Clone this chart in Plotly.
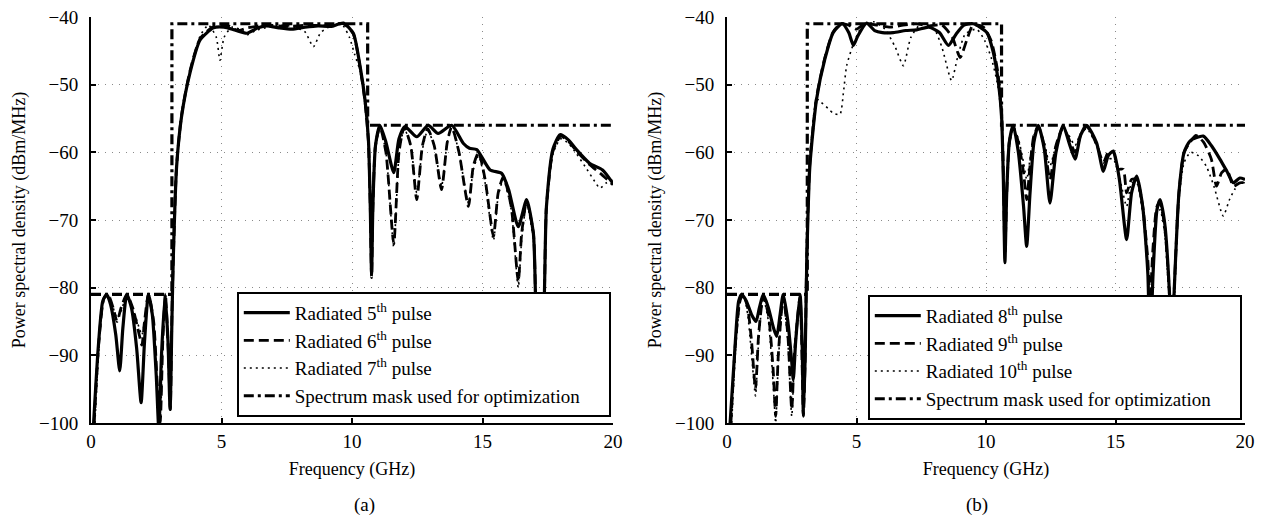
import plotly.graph_objects as go

# ---------------- panel (a): radiated 5th / 6th / 7th pulses ----------------
f_p5 = [0.1, 0.28, 0.45, 0.6, 0.75, 0.95, 1.1, 1.22, 1.37, 1.55, 1.75, 1.92, 2.05, 2.2, 2.35, 2.5, 2.6,
        2.7, 2.84, 2.95, 3.03, 3.1, 3.15, 3.28, 3.47, 3.79, 4.18, 4.69, 5.1, 5.5, 5.97, 6.4, 6.73, 7.2,
        7.7, 8.2, 8.7, 9.2, 9.67, 10.05, 10.31, 10.5, 10.63, 10.7, 10.75, 10.8, 10.9, 11.07, 11.3, 11.6,
        11.8, 12.03, 12.48, 12.92, 13.3, 13.82, 14.27, 14.5, 14.78, 15.29, 15.73, 16.0, 16.37, 16.69,
        16.95, 17.15, 17.25, 17.45, 17.7, 17.97, 18.3, 18.6, 19.1, 19.6, 20.0]
p5 = [-100, -88.7, -82, -81, -82.5, -87, -92.3, -86, -81, -83, -89, -97, -88, -81, -84, -93, -101,
      -90, -81, -88, -98, -85, -76, -62.1, -54.7, -48.3, -43.4, -41.6, -41.5, -41.9, -42.4, -41.6, -41.3, -41.6,
      -41.8, -41.5, -41.3, -41.4, -40.9, -42.4, -47.3, -52.3, -58.2, -68, -78, -68, -59, -56, -58.5, -63,
      -58, -56.2, -57.7, -56, -57.2, -56, -58.7, -59.4, -59.6, -62.6, -63.1, -65.5, -71.0, -67.0,
      -72, -90, -90, -68, -59.5, -57.4, -58.2, -59.6, -61.6, -62.6, -64.6]

f_p6 = [0.12, 0.3, 0.5, 0.65, 0.85, 1.0, 1.15, 1.37, 1.6, 1.85, 1.95, 2.05, 2.2, 2.4, 2.55, 2.65, 2.75,
        2.85, 2.97, 3.04, 3.1, 3.15, 3.28, 3.47, 3.79, 4.18, 4.69, 5.2, 5.6, 6.0, 6.7, 7.5, 8.3, 9.0, 9.67,
        10.05, 10.31, 10.5, 10.63, 10.7, 10.75, 10.8, 10.9, 11.07, 11.3, 11.6, 11.8, 12.0, 12.25, 12.48,
        12.7, 12.9, 13.15, 13.43, 13.65, 13.82, 14.1, 14.46, 14.65, 14.85, 15.1, 15.42, 15.6, 15.8, 16.1,
        16.37, 16.5, 16.69, 16.95, 17.15, 17.25, 17.45, 17.7, 18.0, 18.3, 18.6, 19.1, 19.6, 20.0]
p6 = [-100, -88, -81.5, -81, -83, -85, -83, -81, -83, -87, -88.5, -85, -81, -85, -95, -100, -88,
      -81, -90, -98, -84, -76, -62, -54.5, -48, -43.2, -41.4, -41.2, -42, -41.6, -41.2, -41.4, -41.2, -41.3, -41,
      -42.5, -47.5, -52.5, -58.5, -68, -78.5, -68, -59, -56.2, -60, -73.5, -60, -56.3, -59, -67.0,
      -59, -56.5, -59, -65.5, -58.5, -56.2, -60, -68.0, -62, -60, -64, -72.4, -66, -63.6, -68,
      -79.1, -72, -67.2, -72, -90, -90, -68, -59.8, -57.6, -58.4, -59.8, -61.8, -63.4, -64.8]

f_p7 = [0.15, 0.32, 0.52, 0.68, 0.85, 1.0, 1.15, 1.37, 1.6, 1.85, 1.95, 2.05, 2.2, 2.4, 2.55, 2.65, 2.75,
        2.85, 2.97, 3.04, 3.1, 3.15, 3.28, 3.47, 3.79, 4.18, 4.5, 4.8, 4.94, 5.1, 5.4, 5.8, 6.0, 6.3, 6.8,
        7.3, 7.8, 8.2, 8.52, 8.8, 9.2, 9.6, 9.9, 10.1, 10.31, 10.5, 10.63, 10.7, 10.75, 10.8, 10.9, 11.07,
        11.3, 11.6, 11.8, 12.0, 12.25, 12.48, 12.7, 12.9, 13.15, 13.43, 13.65, 13.82, 14.1, 14.46, 14.65,
        14.85, 15.1, 15.42, 15.6, 15.8, 16.1, 16.37, 16.5, 16.69, 16.95, 17.15, 17.25, 17.45, 17.7, 18.0,
        18.3, 18.6, 19.0, 19.3, 19.5, 19.75, 20.0]
p7 = [-100, -88, -81.5, -81.2, -83, -84.5, -83.5, -81.2, -83, -86, -87, -85, -81.2, -86, -96, -100, -88,
      -81.2, -89, -97, -84, -76, -62, -54.5, -48, -42.8, -41.2, -43, -46.4, -43, -41.5, -42, -42.6, -42, -41.5,
      -41.2, -41.5, -42.2, -44.4, -42.3, -41.3, -41, -43, -45.5, -48, -53, -59, -68, -77, -68, -59.5, -56.3,
      -60, -74, -60.5, -56.5, -59, -66, -59.5, -56.8, -59, -65, -58.5, -56.4, -60, -67.5, -62.5,
      -60.5, -64.5, -73, -66.5, -64, -68.5, -80, -73, -67.5, -73, -90, -90, -68.5, -60.2, -58,
      -58.7, -60.2, -62.5, -64.3, -65.3, -64.5, -64]

# ---------------- panel (b): radiated 8th / 9th / 10th pulses ----------------
f_p8 = [0.12, 0.31, 0.45, 0.57, 0.75, 0.95, 1.12, 1.25, 1.4, 1.6, 1.8, 1.92, 2.05, 2.17, 2.35, 2.5, 2.56,
        2.65, 2.82, 2.9, 2.95, 3.02, 3.08, 3.2, 3.46, 3.78, 4.1, 4.45, 4.7, 4.88, 5.05, 5.39, 5.7, 6.0, 6.42,
        6.9, 7.32, 7.8, 8.2, 8.55, 8.85, 9.15, 9.51, 10.03, 10.28, 10.48, 10.6, 10.67, 10.73, 10.8, 10.9,
        11.05, 11.25, 11.45, 11.57, 11.7, 11.85, 12.02, 12.25, 12.47, 12.7, 12.98, 13.2, 13.44, 13.65,
        13.89, 14.27, 14.53, 14.72, 14.92, 15.15, 15.43, 15.62, 15.82, 16.05, 16.25, 16.33, 16.45, 16.6,
        16.72, 16.9, 17.1, 17.17, 17.25, 17.45, 17.65, 17.88, 18.39, 18.7, 19.03, 19.3, 19.55, 19.8, 20.0]
p8 = [-100, -88.7, -82, -81, -82, -84, -85, -83, -81, -83, -86, -87.2, -84, -81, -85, -91, -93.6,
      -88, -81, -88, -98.8, -90, -76, -62, -52.1, -46.2, -42.3, -41, -42.3, -44.2, -42.8, -40.9, -42, -42.3, -42.3,
      -42, -41.9, -41.5, -42.3, -44.2, -42.5, -41.2, -41, -42.3, -45.2, -49.7, -54.6, -64, -76.3, -66, -58.5,
      -56, -60, -68, -73.9, -66, -58.5, -56, -59.5, -67.5, -60, -56, -58.5, -61, -57.5,
      -56, -58.6, -62.8, -60.5, -59.8, -64, -72.9, -66, -63.5, -68, -78, -90, -78, -68.5,
      -67, -70.5, -82, -90, -82, -66, -60, -58.3, -57.6, -59, -61, -62.8, -64.5, -63.8, -64]

f_p9 = [0.15, 0.33, 0.5, 0.62, 0.8, 0.95, 1.1, 1.22, 1.4, 1.6, 1.78, 1.88, 1.98, 2.17, 2.35, 2.5, 2.6,
        2.82, 2.95, 3.02, 3.08, 3.2, 3.46, 3.78, 4.1, 4.4, 4.7, 5.0, 5.3, 5.8, 6.3, 6.8, 7.3, 7.8, 8.3, 8.7,
        9.0, 9.25, 9.5, 9.9, 10.2, 10.45, 10.6, 10.67, 10.73, 10.8, 10.9, 11.05, 11.25, 11.45, 11.57, 11.7,
        11.85, 12.02, 12.25, 12.47, 12.7, 12.98, 13.2, 13.44, 13.65, 13.89, 14.27, 14.53, 14.72, 14.92,
        15.1, 15.3, 15.43, 15.62, 15.82, 16.05, 16.25, 16.33, 16.45, 16.6, 16.72, 16.9, 17.1, 17.17, 17.25,
        17.45, 17.65, 17.88, 18.1, 18.4, 18.7, 18.9, 19.1, 19.3, 19.55, 19.8, 20.0]
p9 = [-100, -88, -82, -81, -83, -88, -95, -87, -81.3, -84, -92, -99, -90, -81.3, -87, -98, -90,
      -81.3, -99, -90, -75, -61.5, -51.8, -46, -42.2, -41, -41.2, -41.8, -41, -41.2, -41.5, -41.2, -41, -41.3, -41.2, -43,
      -46, -43.5, -41.2, -41.5, -43.5, -48, -54, -63, -75, -66, -58.5, -56.2, -58.5, -63, -67, -62,
      -57.5, -56.2, -59, -64, -59, -56.3, -58, -60, -57.5, -56.2, -58.8, -61.5, -60, -60,
      -62.5, -62.5, -66, -64, -64, -68, -76, -82, -74, -68, -67.5, -71, -82, -90, -82,
      -66, -60, -58.5, -57.5, -58.5, -61, -65, -63, -62.5, -65, -64.5, -64.5]

f_p10 = [0.18, 0.35, 0.52, 0.65, 0.8, 0.95, 1.1, 1.22, 1.4, 1.6, 1.78, 1.88, 1.98, 2.17, 2.35, 2.5, 2.6,
         2.82, 2.95, 3.02, 3.08, 3.2, 3.46, 3.6, 3.9, 4.1, 4.36, 4.5, 4.62, 4.88, 5.2, 5.65, 6.1, 6.5, 6.81,
         7.1, 7.5, 8.0, 8.3, 8.67, 8.9, 9.2, 9.64, 9.95, 10.2, 10.45, 10.6, 10.67, 10.73, 10.8, 10.9, 11.05,
         11.25, 11.45, 11.57, 11.7, 11.85, 12.02, 12.25, 12.47, 12.7, 12.98, 13.2, 13.44, 13.65, 13.89,
         14.27, 14.53, 14.72, 14.92, 15.2, 15.43, 15.62, 15.82, 16.05, 16.25, 16.33, 16.45, 16.6, 16.72,
         16.9, 17.1, 17.17, 17.25, 17.45, 17.65, 17.9, 18.2, 18.5, 18.8, 19.16, 19.4, 19.6, 19.8, 20.0]
p10 = [-100, -88, -82, -81.2, -84, -90, -96, -88, -81.5, -85, -94, -100, -91, -81.5, -88, -99, -91,
       -81.5, -99, -90, -74, -61, -52.1, -52.5, -53.5, -54.2, -54.4, -51, -47.2, -44, -41.5, -40.7, -41.8, -44.5, -47.2,
       -43, -41, -41.8, -44.5, -49.4, -46, -42.5, -41.8, -43.5, -46, -50, -55, -63, -74, -66, -59, -56.5,
       -58, -61.5, -64, -61, -57.5, -56.5, -58.5, -62, -59, -56.5, -57.5, -59, -57.2, -56.5,
       -59, -62, -61, -61, -64.5, -68, -64.5, -64.5, -69, -78, -86, -76, -69, -68.5,
       -72, -84, -90, -84, -67, -61.5, -60, -60.5, -62, -65, -69.4, -67, -65.5, -64.5, -64.5]

# spectrum mask used for optimization (same in both panels)
f_mask = [0, 3.1, 3.1, 10.6, 10.6, 20]
mask = [-81, -81, -41, -41, -56, -56]

# trailing non-breaking spaces give the legend box some right-hand padding
PAD = "\u00a0" * 5
names_a = ["Radiated 5<sup>th</sup> pulse", "Radiated 6<sup>th</sup> pulse",
           "Radiated 7<sup>th</sup> pulse", "Spectrum mask used for optimization" + PAD]
names_b = ["Radiated 8<sup>th</sup> pulse", "Radiated 9<sup>th</sup> pulse",
           "Radiated 10<sup>th</sup> pulse", "Spectrum mask used for optimization" + PAD]

x_ticks = [0, 5, 10, 15, 20]
y_ticks = [-100, -90, -80, -70, -60, -50, -40]

FONT = "Liberation Serif, Times New Roman, serif"
line_styles = [
    dict(color="black", width=3.2, dash="solid"),
    dict(color="black", width=2.8, dash="10px,5px"),
    dict(color="black", width=1.6, dash="2px,4px"),
    dict(color="black", width=3.2, dash="10px,4px,3px,4px"),
]

fig = go.Figure()

panels = [
    ("x", "y", "legend", [(f_p5, p5), (f_p6, p6), (f_p7, p7), (f_mask, mask)], names_a),
    ("x2", "y2", "legend2", [(f_p8, p8), (f_p9, p9), (f_p10, p10), (f_mask, mask)], names_b),
]
for xa, ya, lg, series, names in panels:
    for (fx, fy), name, style in zip(series, names, line_styles):
        fig.add_trace(go.Scatter(
            x=fx, y=fy, mode="lines", name=name, xaxis=xa, yaxis=ya, legend=lg,
            line=dict(color=style["color"], width=style["width"], dash=style["dash"],
                      shape="linear" if fx is f_mask else "spline", smoothing=0.6),
            hoverinfo="skip",
        ))

W, H = 1271, 515
top_px, bot_px = 17, 423
ydom = [1 - bot_px / H, 1 - top_px / H]

axis_common = dict(
    showline=True, linecolor="black", linewidth=2, mirror=False,
    ticks="inside", ticklen=5, tickwidth=1.5, tickcolor="black",
    showgrid=True, gridcolor="#8a8a8a", griddash="1px,6px", gridwidth=1,
    zeroline=False, tickfont=dict(family=FONT, size=19, color="black"),
)
xcommon = dict(axis_common, range=[0, 20], tickvals=x_ticks, ticklabelstandoff=0,
               title=dict(text="Frequency (GHz)", font=dict(family=FONT, size=18, color="black"), standoff=12))
ycommon = dict(axis_common, range=[-100, -40], tickvals=y_ticks, ticklabelstandoff=7,
               title=dict(text="Power spectral density (dBm/MHz)", font=dict(family=FONT, size=18, color="black"),
                          standoff=9))

legend_common = dict(
    bgcolor="white", bordercolor="black", borderwidth=1.8,
    font=dict(family=FONT, size=19, color="black"),
    xanchor="right", yanchor="bottom", tracegroupgap=0, itemwidth=46,
)

fig.update_layout(
    width=W, height=H,
    margin=dict(l=0, r=0, t=0, b=0),
    paper_bgcolor="white", plot_bgcolor="white",
    font=dict(family=FONT, color="black"),
    xaxis=dict(xcommon, domain=[91 / W, 613 / W], anchor="y", automargin=False),
    yaxis=dict(ycommon, domain=ydom, anchor="x", automargin=False),
    xaxis2=dict(xcommon, domain=[727 / W, 1245 / W], anchor="y2", automargin=False),
    yaxis2=dict(ycommon, domain=ydom, anchor="x2", automargin=False),
    legend=dict(legend_common, x=611 / W, y=1 - 417 / H),
    legend2=dict(legend_common, x=1242 / W, y=1 - 420 / H),
    showlegend=True,
    annotations=[
        dict(text="(a)", x=352 / W, y=1 - 505 / H, xref="paper", yref="paper", showarrow=False,
             yanchor="middle", font=dict(family=FONT, size=19, color="black")),
        dict(text="(b)", x=990 / W, y=1 - 505 / H, xref="paper", yref="paper", showarrow=False,
             yanchor="middle", font=dict(family=FONT, size=19, color="black")),
    ],
)

fig.write_html("out.html")
